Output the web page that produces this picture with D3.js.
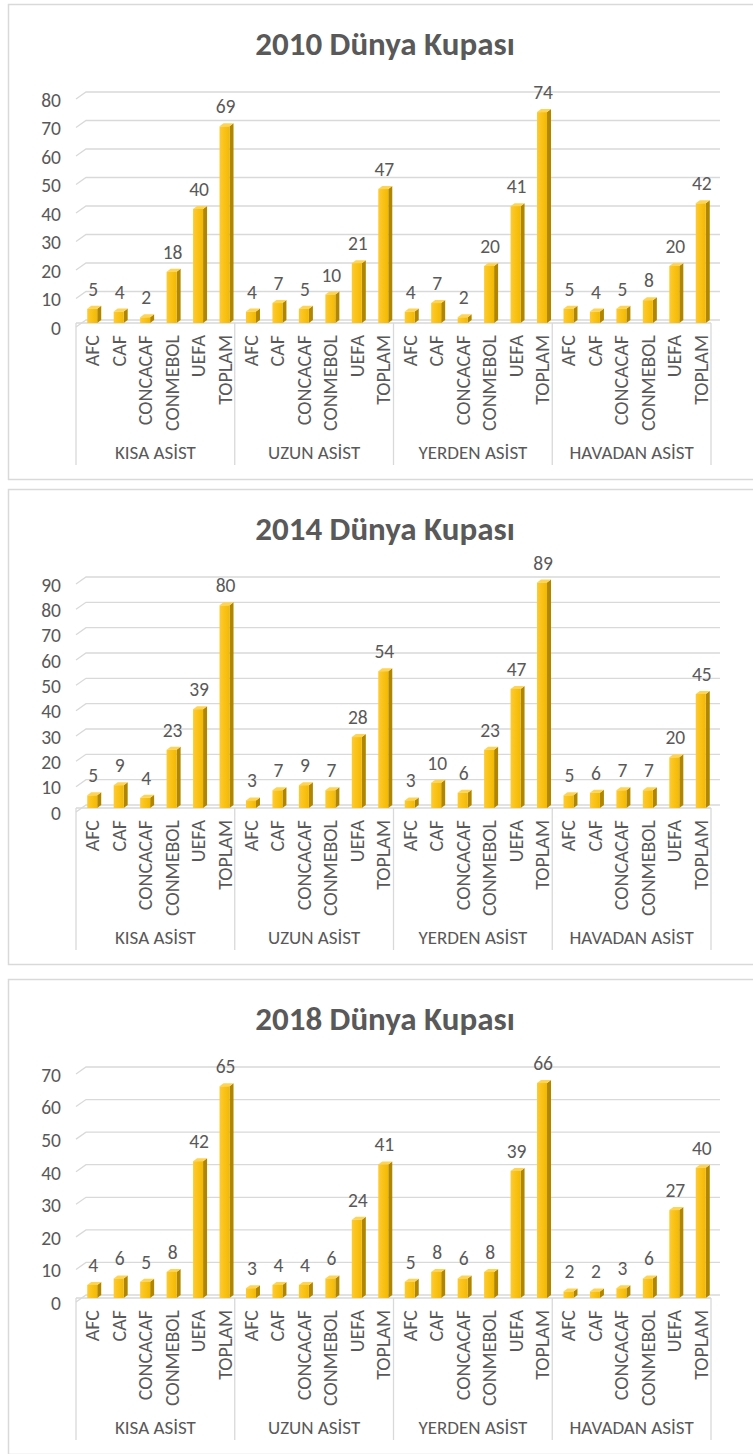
<!DOCTYPE html>
<html>
<head>
<meta charset="utf-8">
<script src="https://cdn.jsdelivr.net/npm/d3@7"></script>
<style>
  body { margin: 0; background: #fff; }
  text { font-family: Carlito, Calibri, "Open Sans", sans-serif; fill: #595959; }
</style>
</head>
<body>
<div id="chart"></div>
<script>
// chart data
const groups = ["KISA ASİST", "UZUN ASİST", "YERDEN ASİST", "HAVADAN ASİST"];
const categories = ["AFC", "CAF", "CONCACAF", "CONMEBOL", "UEFA", "TOPLAM"];
const titles = ["2010 Dünya Kupası", "2014 Dünya Kupası", "2018 Dünya Kupası"];
const yMax = [80, 90, 70];

const values2010 = [
  [5, 4, 2, 18, 40, 69],
  [4, 7, 5, 10, 21, 47],
  [4, 7, 2, 20, 41, 74],
  [5, 4, 5, 8, 20, 42]
];
const values2014 = [
  [5, 9, 4, 23, 39, 80],
  [3, 7, 9, 7, 28, 54],
  [3, 10, 6, 23, 47, 89],
  [5, 6, 7, 7, 20, 45]
];
const values2018 = [
  [4, 6, 5, 8, 42, 65],
  [3, 4, 4, 6, 24, 41],
  [5, 8, 6, 8, 39, 66],
  [2, 2, 3, 6, 27, 40]
];
const allValues = [values2010, values2014, values2018];

var width = 753;
var height = 1454;
var panelTops = [4, 489, 979];
var panelH = 476;

var svg = d3.select('#chart').append('svg')
  .attr('width', width)
  .attr('height', height);

// bar gradient
var defs = svg.append('defs');
var grad = defs.append('linearGradient').attr('id', 'front')
  .attr('x1', '0%').attr('x2', '100%').attr('y1', '0%').attr('y2', '0%');
grad.append('stop').attr('offset', '0%').attr('stop-color', '#ffcb2e');
grad.append('stop').attr('offset', '100%').attr('stop-color', '#f3b900');

var gridColor = '#d9d9d9';

// group and category scales (same for every panel)
var x0 = d3.scaleBand().domain(groups).range([76, 711]).padding(0);
var x1 = d3.scaleBand().domain(categories).range([0, x0.bandwidth()]).padding(0);

allValues.forEach(function(vals, p) {
  var top = panelTops[p];
  var g = svg.append('g').attr('transform', 'translate(0,' + top + ')');

  // panel border
  g.append('rect')
    .attr('x', 8.5).attr('y', 0.5)
    .attr('width', 760).attr('height', panelH - 1)
    .attr('fill', 'none').attr('stroke', gridColor).attr('stroke-width', 1.5);

  // title
  g.append('text')
    .attr('x', 385).attr('y', 51)
    .attr('text-anchor', 'middle')
    .style('font-size', '33px').style('font-weight', 'bold')
    .text(titles[p]);

  var y = d3.scaleLinear().domain([0, yMax[p]]).range([316, 88]);
  var ticks = d3.range(0, yMax[p] + 1, 10);
  var floorY = y(0) + 3;

  // back wall gridlines with small 3D diagonal
  ticks.forEach(function(t) {
    g.append('path')
      .attr('d', 'M76,' + (y(t) + 7) + 'L86,' + y(t) + 'L720,' + y(t))
      .attr('fill', 'none').attr('stroke', gridColor).attr('stroke-width', 1.3);
    g.append('text')
      .attr('x', 61).attr('y', y(t) + 8)
      .attr('dy', '0.35em')
      .attr('text-anchor', 'end')
      .style('font-size', '19.5px')
      .text(t);
  });

  // category axis box
  g.append('line')
    .attr('x1', 76).attr('x2', 711).attr('y1', floorY).attr('y2', floorY)
    .attr('stroke', gridColor).attr('stroke-width', 1.3);
  groups.concat(['end']).forEach(function(gr, i) {
    var xx = i < groups.length ? x0(gr) : 711;
    g.append('line')
      .attr('x1', xx).attr('x2', xx).attr('y1', floorY).attr('y2', floorY + 142)
      .attr('stroke', gridColor).attr('stroke-width', 1.3);
  });

  groups.forEach(function(gr, gi) {
    var gg = g.append('g').attr('transform', 'translate(' + x0(gr) + ',0)');

    // group label
    gg.append('text')
      .attr('x', x0.bandwidth() / 2).attr('y', floorY + 136)
      .attr('text-anchor', 'middle')
      .style('font-size', '19px')
      .text(gr);

    var data = categories.map(function(c, i) { return { cat: c, value: vals[gi][i] }; });

    var bars = gg.selectAll('g.bar').data(data).enter().append('g').attr('class', 'bar');

    bars.each(function(d) {
      var b = d3.select(this);
      var L = x1(d.cat) + x1.bandwidth() / 2 - 2;
      var ft = y(d.value) + 3;
      var fb = floorY;
      // side face
      b.append('path')
        .attr('d', 'M' + (L + 10) + ',' + ft + 'L' + (L + 14) + ',' + (ft - 3) +
          'L' + (L + 14) + ',' + (fb - 3) + 'L' + (L + 10) + ',' + fb + 'Z')
        .attr('fill', '#b08600');
      // top face
      b.append('path')
        .attr('d', 'M' + L + ',' + ft + 'L' + (L + 4) + ',' + (ft - 3) +
          'L' + (L + 14) + ',' + (ft - 3) + 'L' + (L + 10) + ',' + ft + 'Z')
        .attr('fill', '#ffd452');
      // front face
      b.append('rect')
        .attr('x', L).attr('y', ft)
        .attr('width', 10).attr('height', fb - ft)
        .attr('fill', 'url(#front)');
      // value label
      b.append('text')
        .attr('x', L + 6).attr('y', ft - 13)
        .attr('text-anchor', 'middle')
        .style('font-size', '19.5px')
        .text(d.value);
      // category label (rotated)
      var lx = L + 5;
      b.append('text')
        .attr('transform', 'translate(' + lx + ',' + (floorY + 12) + ') rotate(-90)')
        .attr('dy', '0.35em')
        .attr('text-anchor', 'end')
        .style('font-size', '20px')
        .text(d.cat);
    });
  });
});
</script>
</body>
</html>
